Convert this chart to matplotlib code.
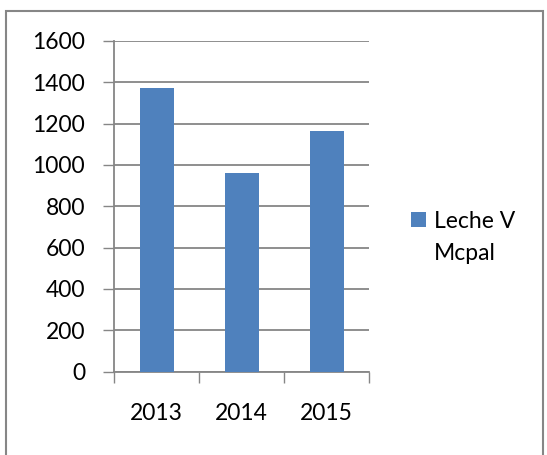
import matplotlib.pyplot as plt
from matplotlib.patches import Rectangle

years = ['2013', '2014', '2015']
leche = [1370, 960, 1165]
label_lines = ['Leche V', 'Mcpal']
yticks = [0, 200, 400, 600, 800, 1000, 1200, 1400, 1600]

plt.rcParams['font.family'] = ['Lato', 'DejaVu Sans']
grid_col = '#868686'
fs = 16.5

fig = plt.figure(figsize=(5.47, 4.55), dpi=100)
ax = fig.add_axes([0.209, 0.1835, 0.466, 0.7265])

x = range(len(years))
bars = ax.bar(x, leche, width=0.4, color='#4F81BD', label=label_lines[0], zorder=3)

ax.set_xlim(-0.5, 2.5)
ax.set_ylim(0, 1600)
ax.set_yticks(yticks)
ax.set_xticks([-0.5, 0.5, 1.5, 2.5])
ax.set_xticklabels([])
ax.set_xticks(list(x), minor=True)
ax.set_xticklabels(years, minor=True)
ax.tick_params(axis='x', which='minor', length=0, pad=23, labelsize=fs)
ax.tick_params(axis='x', which='major', length=8, width=1, color=grid_col)
ax.tick_params(axis='y', length=8, width=1, color=grid_col, labelsize=fs, pad=13)
ax.yaxis.grid(True, color=grid_col, linewidth=1.3, zorder=0)
for s in ['top', 'right']:
    ax.spines[s].set_visible(False)
for s in ['left', 'bottom']:
    ax.spines[s].set_color(grid_col)
    ax.spines[s].set_linewidth(1.3)

# legend label wraps onto a second line, like the original
blank = Rectangle((0, 0), 1, 1, fill=False, edgecolor='none', label=label_lines[1])
leg = fig.legend(handles=[bars, blank], loc='upper left', bbox_to_anchor=(0.752, 0.537),
                 frameon=False, fontsize=fs, handlelength=0.65, handleheight=0.65,
                 handletextpad=0.32, borderpad=0, borderaxespad=0, labelspacing=0.5)

# outer chart border
fig.patches.append(Rectangle((6 / 547, -0.05), 537 / 547, 1.05 - 11 / 455,
                             transform=fig.transFigure, fill=False,
                             edgecolor=grid_col, linewidth=1.5))

plt.savefig('out.png', dpi=100)
